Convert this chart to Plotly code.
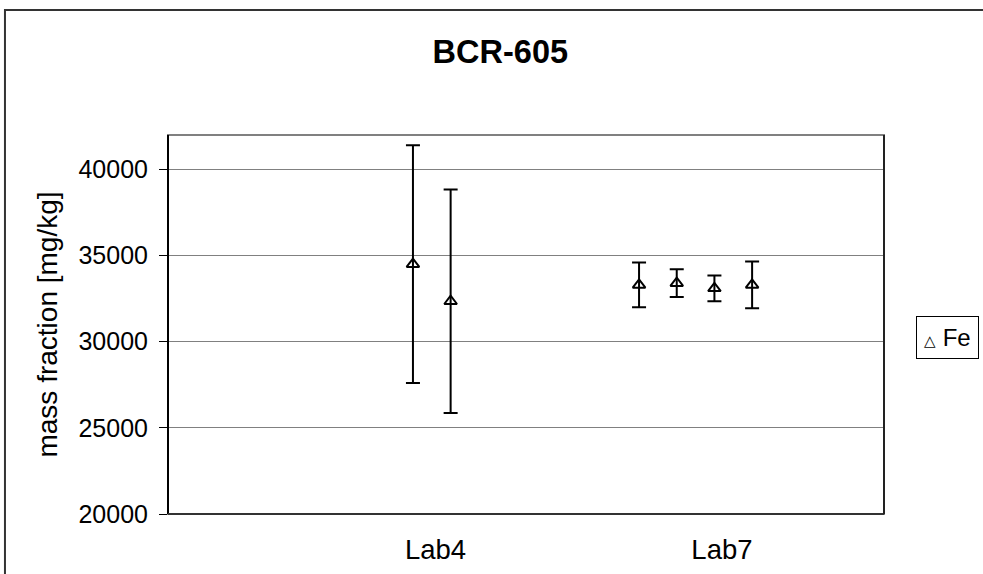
import plotly.graph_objects as go

# Fe mass fraction results for BCR-605, one entry per replicate
slot_index = [6, 7, 12, 13, 14, 15]          # position of each replicate along the x axis
fe_values = [34500, 32350, 33300, 33400, 33100, 33300]
fe_uncert = [6900, 6480, 1300, 800, 750, 1350]
series_name = "Fe"

# laboratory labels shown under the axis
lab_labels = ["Lab4", "Lab7"]
lab_label_pos = [7.1, 14.7]

y_ticks = [20000, 25000, 30000, 35000, 40000]

FONT = "Liberation Sans, Arial, sans-serif"

fig = go.Figure()
fig.add_trace(go.Scatter(
    x=[i + 0.5 for i in slot_index],
    y=fe_values,
    mode="markers",
    name=series_name,
    showlegend=False,
    marker=dict(symbol="triangle-up-open", size=11, color="black",
                line=dict(color="black", width=2)),
    error_y=dict(type="data", array=fe_uncert, visible=True,
                 color="black", thickness=2, width=7),
))

fig.update_layout(
    width=983, height=574,
    margin=dict(l=168, r=99, t=135, b=60, autoexpand=False),
    paper_bgcolor="white", plot_bgcolor="white",
    font=dict(family=FONT, color="black"),
    title=dict(text="<b>BCR-605</b>", x=0.509, xanchor="center", xref="container",
               y=0.91, yanchor="middle", font=dict(size=32.5, family=FONT)),
    xaxis=dict(range=[0, 19], showgrid=False, zeroline=False,
               tickmode="array", tickvals=lab_label_pos, ticktext=lab_labels,
               ticks="", tickfont=dict(size=27.5), showline=False,
               ticklabelstandoff=16),
    yaxis=dict(range=[20000, 42000], tickmode="array", tickvals=y_ticks,
               ticktext=[str(v) for v in y_ticks],
               showgrid=True, gridcolor="#808080", gridwidth=1,
               zeroline=False, ticks="outside", ticklen=8, tickcolor="black",
               tickwidth=1, tickfont=dict(size=25),
               showline=False, ticklabelstandoff=6,
               title=dict(text="mass fraction [mg/kg]", font=dict(size=28),
                          standoff=12)),
)

# legend box for the single series
fig.add_annotation(
    xref="paper", yref="paper", x=(916 - 168) / 716, xanchor="left",
    y=(514 - 337.5) / 379, yanchor="middle",
    text="<span style='font-size:15px'>△</span> " + series_name,
    showarrow=False, align="left",
    font=dict(size=24, family=FONT, color="black"),
    bordercolor="black", borderwidth=1, borderpad=7, bgcolor="white",
)

# plot-area frame
fig.add_shape(type="rect", xref="paper", yref="paper", x0=0, x1=1, y0=0, y1=1,
              line=dict(color="#808080", width=2), layer="above")
# axis lines
fig.add_shape(type="line", xref="paper", yref="paper", x0=0, x1=0, y0=0, y1=1,
              line=dict(color="black", width=2), layer="above")
fig.add_shape(type="line", xref="paper", yref="paper", x0=0, x1=1, y0=0, y1=0,
              line=dict(color="#333333", width=2), layer="above")
fig.add_shape(type="line", xref="paper", yref="paper", x0=1, x1=1, y0=0, y1=1,
              line=dict(color="#222222", width=2), layer="above")
# outer chart frame (extends past the right and bottom edges of the page)
fig.add_shape(type="rect", xref="paper", yref="paper",
              x0=-0.2277, x1=1.22, y0=-0.2, y1=1.3298,
              line=dict(color="#333333", width=2), layer="above")

fig.write_html("out.html")
